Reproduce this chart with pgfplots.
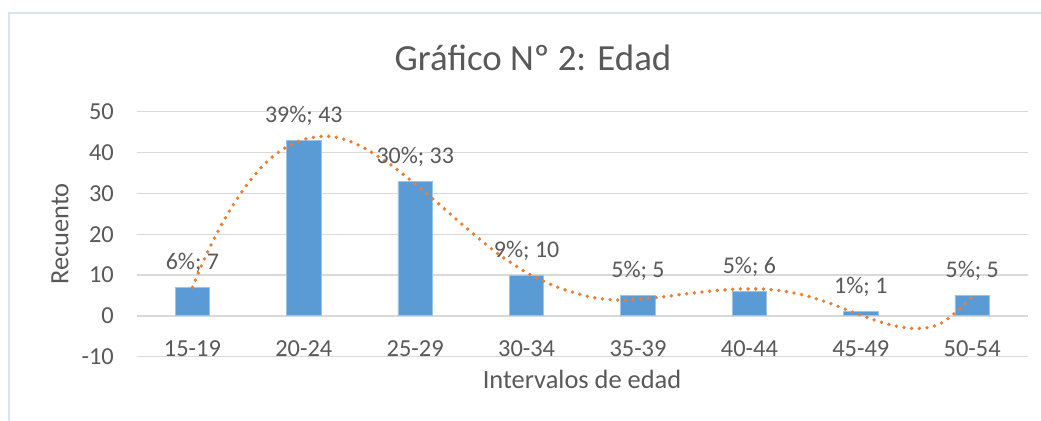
\documentclass[border=0pt]{standalone}
\usepackage{pgfplots}
\pgfplotsset{compat=1.18}
\usepackage{fontspec}
\setmainfont{Carlito}
\definecolor{barblue}{HTML}{5B9BD5}
\definecolor{baredge}{HTML}{9DC3E6}
\definecolor{trendc}{HTML}{ED7D31}
\definecolor{txt}{HTML}{595959}
\definecolor{gridc}{HTML}{D9D9D9}
\definecolor{framec}{HTML}{DAE3F3}
\newcommand{\sm}{\string;}
\begin{document}
\begin{tikzpicture}
\useasboundingbox (0,0) rectangle (1041bp,421bp);
\fill[white] (0,0) rectangle (1041bp,421bp);
\draw[framec, line width=2bp] (9bp,0) -- (9bp,408bp) -- (1041bp,408bp);
\begin{axis}[
  at={(136.7bp,64.3bp)}, anchor=south west,
  x=111.4bp, y=4.083bp,
  xmin=-0.5, xmax=7.5, ymin=-10, ymax=50,
  axis line style={draw=none},
  ytick={-10,0,10,20,30,40,50},
  xtick={0,1,2,3,4,5,6,7},
  xticklabels={15-19,20-24,25-29,30-34,35-39,40-44,45-49,50-54},
  major tick length=0pt,
  ymajorgrids, grid style={gridc, line width=1.3bp},
  tick label style={font=\fontsize{24.5}{28}\selectfont, text=txt},
  /pgf/number format/assume math mode=true,
  yticklabel style={anchor=east, inner sep=0pt, xshift=-22.7bp},
  xticklabel style={anchor=center, inner sep=0pt, yshift=7.7bp},
  clip=false,
]
\addplot[ybar, bar width=34.5bp, fill=barblue, draw=baredge, line width=0.8bp,
  nodes near coords, point meta=explicit symbolic,
  every node near coord/.append style={anchor=center, yshift=24.5bp, font=\fontsize{24}{28}\selectfont, text=txt}]
  coordinates {
  (0,7) [{6\%\sm{} 7}]
  (1,43) [{39\%\sm{} 43}]
  (2,33) [{30\%\sm{} 33}]
  (3,10) [{9\%\sm{} 10}]
  (4,5) [{5\%\sm{} 5}]
  (5,6) [{5\%\sm{} 6}]
  (6,1) [{1\%\sm{} 1}]
  (7,5) [{5\%\sm{} 5}]
  };
\addplot[trendc, line width=3.8bp, line cap=round, dash pattern=on 0pt off 7.7bp, smooth]
  coordinates {
  (0,7) (0.1,13.5) (0.2,19.2) (0.3,24.2) (0.4,28.6) (0.5,32.5) (0.6,35.8) (0.7,38.5)
  (0.8,40.6) (0.9,42.1) (1.0,43.2) (1.1,43.8) (1.2,44.0) (1.3,43.7) (1.4,42.9)
  (1.5,41.7) (1.6,40.2) (1.7,38.5) (1.8,36.6) (1.9,34.5) (2.0,32.3) (2.1,30.0)
  (2.2,27.7) (2.3,25.3) (2.4,22.9) (2.5,20.6) (2.6,18.3) (2.7,16.1) (2.8,14.1)
  (2.9,12.3) (3.0,10.6) (3.1,9.2) (3.2,7.9) (3.3,6.8) (3.4,5.9) (3.5,5.1) (3.6,4.5)
  (3.7,4.1) (3.8,3.9) (3.9,3.9) (4.0,4.1) (4.1,4.3) (4.2,4.6) (4.3,4.9) (4.4,5.3)
  (4.5,5.6) (4.6,5.9) (4.7,6.2) (4.8,6.4) (4.9,6.6) (5.0,6.6) (5.1,6.6) (5.2,6.4)
  (5.3,6.1) (5.4,5.6) (5.5,5.0) (5.6,4.2) (5.7,3.3) (5.8,2.3) (5.9,1.2) (6.0,0.2)
  (6.1,-0.8) (6.2,-1.7) (6.3,-2.4) (6.4,-2.9) (6.5,-3.1) (6.6,-2.9) (6.7,-2.1)
  (6.8,-0.3) (6.9,2.0) (7.0,4.6)
  };
\end{axis}
\node[text=txt, font=\fontsize{37}{42}\selectfont] at (533bp,363.5bp) {Gráfico Nº 2: Edad};
\node[text=txt, font=\fontsize{26.5}{30}\selectfont, rotate=90] at (60bp,187bp) {Recuento};
\node[text=txt, font=\fontsize{26.5}{30}\selectfont] at (582bp,42bp) {Intervalos de edad};
\end{tikzpicture}
\end{document}
